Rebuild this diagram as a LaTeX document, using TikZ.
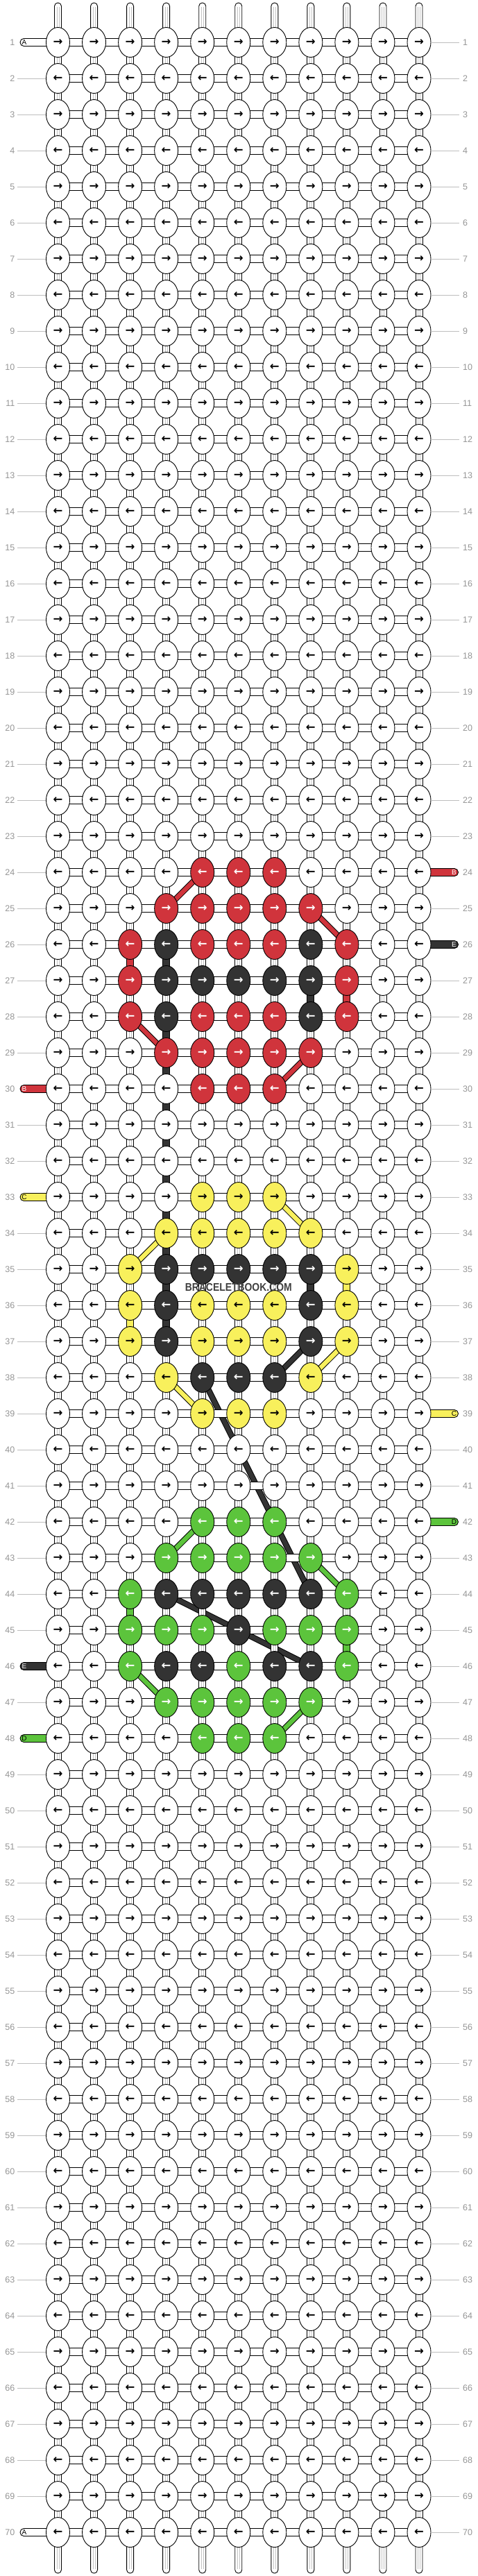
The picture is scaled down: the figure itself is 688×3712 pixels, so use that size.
\documentclass[tikz,border=0pt]{standalone}
\usepackage{fontspec}
\usepackage{graphicx}
\setmainfont{Liberation Sans}
\newfontfamily\arrowfont{DejaVu Sans}
\usetikzlibrary{shapes.geometric,calc}
\definecolor{cR}{RGB}{208,52,60}
\definecolor{cK}{RGB}{51,51,51}
\definecolor{cY}{RGB}{248,240,92}
\definecolor{cG}{RGB}{92,196,60}
\definecolor{cW}{RGB}{255,255,255}
\definecolor{numgray}{RGB}{150,150,150}
\definecolor{linegray}{RGB}{190,190,190}
\definecolor{innergray}{RGB}{195,195,195}
\definecolor{wmark}{RGB}{64,64,64}
% knot colours: \setk{row}{colour letter}{columns}
\newcommand\setk[3]{\foreach \cc in {#3}{\expandafter\xdef\csname kc-#1-\cc\endcsname{#2}}}
% coloured vertical pieces: \setvc{column}{colour letter}{upper rows}
\newcommand\setvc[3]{\foreach \rr in {#3}{\expandafter\xdef\csname vc-\rr-#1\endcsname{#2}}}
\setk{24}{R}{5,6,7}
\setk{25}{R}{4,5,6,7,8}
\setk{26}{R}{3,5,6,7,9}\setk{26}{K}{4,8}
\setk{27}{R}{3,9}\setk{27}{K}{4,5,6,7,8}
\setk{28}{R}{3,5,6,7,9}\setk{28}{K}{4,8}
\setk{29}{R}{4,5,6,7,8}
\setk{30}{R}{5,6,7}
\setk{33}{Y}{5,6,7}
\setk{34}{Y}{4,5,6,7,8}
\setk{35}{Y}{3,9}\setk{35}{K}{4,5,6,7,8}
\setk{36}{Y}{3,5,6,7,9}\setk{36}{K}{4,8}
\setk{37}{Y}{3,5,6,7,9}\setk{37}{K}{4,8}
\setk{38}{Y}{4,8}\setk{38}{K}{5,6,7}
\setk{39}{Y}{5,6,7}
\setk{42}{G}{5,6,7}
\setk{43}{G}{4,5,6,7,8}
\setk{44}{G}{3,9}\setk{44}{K}{4,5,6,7,8}
\setk{45}{G}{3,4,5,7,8,9}\setk{45}{K}{6}
\setk{46}{G}{3,6,9}\setk{46}{K}{4,5,7,8}
\setk{47}{G}{4,5,6,7,8}
\setk{48}{G}{5,6,7}
\setvc{3}{R}{26}
\setvc{9}{R}{27}
\setvc{4}{K}{26,28,29,30,31,32,33,34,35,36}
\setvc{8}{K}{27,35}
\setvc{9}{Y}{35}
\setvc{3}{Y}{36}
\setvc{3}{G}{44}
\setvc{9}{G}{45}
% side markers
\expandafter\def\csname lt-1\endcsname{}
\expandafter\def\csname lt-30\endcsname{}
\expandafter\def\csname lt-33\endcsname{}
\expandafter\def\csname lt-46\endcsname{}
\expandafter\def\csname lt-48\endcsname{}
\expandafter\def\csname lt-70\endcsname{}
\expandafter\def\csname rt-24\endcsname{}
\expandafter\def\csname rt-26\endcsname{}
\expandafter\def\csname rt-39\endcsname{}
\expandafter\def\csname rt-42\endcsname{}
\newcommand\thr[3]{\draw[line width=8.5pt,black] (#2)--(#3);\draw[line width=6.5pt,#1] (#2)--(#3);}
\newcommand\ltube[4]{%
  \filldraw[fill=#2,line width=0.9pt,rounded corners=5.4pt]
    ($(p-#1-1)+(-12,-5.5)$) -- ($(p-#1-1)+(-54.5,-5.5)$) -- ($(p-#1-1)+(-54.5,5.5)$) -- ($(p-#1-1)+(-12,5.5)$);
  \node[tubelabel,text=#4] (lt-#1) at ($(p-#1-1)+(-48.5,0)$) {#3};}
\newcommand\rtube[4]{%
  \filldraw[fill=#2,line width=0.9pt,rounded corners=5.4pt]
    ($(p-#1-11)+(12,-5.5)$) -- ($(p-#1-11)+(56.5,-5.5)$) -- ($(p-#1-11)+(56.5,5.5)$) -- ($(p-#1-11)+(12,5.5)$);
  \node[tubelabel,text=#4] (rt-#1) at ($(p-#1-11)+(50.5,0)$) {#3};}
\begin{document}
\begin{tikzpicture}[x=1pt,y=-1pt,
  knot/.style={ellipse,draw=black,line width=0.9pt,minimum width=34pt,minimum height=43pt,inner sep=0pt,
    font=\arrowfont\bfseries\fontsize{16.5}{16.5}\selectfont},
  conn/.style={draw=black,line width=0.9pt},
  inner/.style={draw=innergray,line width=0.6pt},
  grayline/.style={draw=linegray,line width=0.8pt},
  numlabel/.style={inner sep=0pt,text=numgray,font=\fontsize{12.5}{12.5}\selectfont},
  tubelabel/.style={inner sep=0pt,font=\fontsize{10}{10}\selectfont}]
\useasboundingbox[fill=white] (0,0) rectangle (688,3712);
% grid coordinates
\foreach \r in {1,...,70}{\foreach \c in {1,...,11}{%
  \coordinate (p-\r-\c) at ({83.5+52.05*(\c-1)},{61+52*(\r-1)});}}
% thread paths
\thr{cR}{p-24-5}{p-25-4}
\thr{cR}{p-25-8}{p-26-9}
\thr{cR}{p-28-3}{p-29-4}
\thr{cR}{p-29-8}{p-30-7}
\thr{cY}{p-33-7}{p-34-8}
\thr{cY}{p-34-4}{p-35-3}
\thr{cY}{p-37-9}{p-38-8}
\thr{cY}{p-38-4}{p-39-5}
\thr{cG}{p-42-5}{p-43-4}
\thr{cG}{p-43-8}{p-44-9}
\thr{cG}{p-46-3}{p-47-4}
\thr{cG}{p-47-8}{p-48-7}
\thr{cK}{p-37-8}{p-38-7}
\thr{cK}{p-38-5}{p-44-8}
\thr{cK}{p-44-4}{p-46-8}
% top and bottom thread ends
\foreach \c in {1,...,11}{%
  \filldraw[fill=white,conn,rounded corners=4.9pt]
    ($(p-1-\c)+(-5,0)$) -- ($(p-1-\c)+(-5,-57)$) -- ($(p-1-\c)+(5,-57)$) -- ($(p-1-\c)+(5,0)$);
  \draw[inner] ($(p-1-\c)+(-1.3,-51)$) -- ($(p-1-\c)+(-1.3,0)$) ($(p-1-\c)+(1.3,-51)$) -- ($(p-1-\c)+(1.3,0)$);
  \filldraw[fill=white,conn,rounded corners=4.9pt]
    ($(p-70-\c)+(-5,0)$) -- ($(p-70-\c)+(-5,59)$) -- ($(p-70-\c)+(5,59)$) -- ($(p-70-\c)+(5,0)$);
  \draw[inner] ($(p-70-\c)+(-1.3,53)$) -- ($(p-70-\c)+(-1.3,0)$) ($(p-70-\c)+(1.3,53)$) -- ($(p-70-\c)+(1.3,0)$);
}
% vertical pieces
\foreach \r [evaluate=\r as \rn using int(\r+1)] in {1,...,69}{\foreach \c in {1,...,11}{%
  \ifcsname vc-\r-\c\endcsname
    \edef\vcol{c\csname vc-\r-\c\endcsname}%
    \filldraw[fill=\vcol,conn] ($(p-\r-\c)+(-5,0)$) rectangle ($(p-\rn-\c)+(5,0)$);
  \else
    \filldraw[fill=white,conn] ($(p-\r-\c)+(-5,0)$) rectangle ($(p-\rn-\c)+(5,0)$);
    \draw[inner] ($(p-\r-\c)+(-1.3,0)$) -- ($(p-\rn-\c)+(-1.3,0)$) ($(p-\r-\c)+(1.3,0)$) -- ($(p-\rn-\c)+(1.3,0)$);
  \fi}}
% horizontal pieces
\foreach \r in {1,...,70}{\foreach \c [evaluate=\c as \cn using int(\c+1)] in {1,...,10}{%
  \filldraw[fill=white,conn] ($(p-\r-\c)+(0,-5.5)$) rectangle ($(p-\r-\cn)+(0,5.5)$);}}
% side tubes
\ltube{1}{white}{A}{black}
\ltube{70}{white}{A}{black}
\ltube{30}{cR}{B}{white}
\ltube{33}{cY}{C}{black}
\ltube{46}{cK}{E}{white}
\ltube{48}{cG}{D}{black}
\rtube{24}{cR}{B}{white}
\rtube{26}{cK}{E}{white}
\rtube{39}{cY}{C}{black}
\rtube{42}{cG}{D}{black}
% knots
\foreach \r in {1,...,70}{\foreach \c in {1,...,11}{%
  \def\kfill{white}\def\ktext{black}%
  \ifcsname kc-\r-\c\endcsname
    \edef\kk{\csname kc-\r-\c\endcsname}%
    \edef\kfill{c\kk}%
    \if Y\kk\else\def\ktext{white}\fi
  \fi
  \ifodd\r\def\arr{→}\else\def\arr{←}\fi
  \node[knot,fill=\kfill,text=\ktext] (k-\r-\c) at (p-\r-\c) {\arr};
}}
% row numbers and guide lines
\foreach \r in {1,...,70}{%
  \node[numlabel,anchor=east] (ln-\r) at ($(p-\r-1)+(-62,0)$) {\r};
  \node[numlabel,anchor=west] (rn-\r) at ($(p-\r-11)+(63,0)$) {\r};
  \ifcsname lt-\r\endcsname\else
    \draw[grayline] (ln-\r.east) ++(3.5,0) -- (k-\r-1.west);
  \fi
  \ifcsname rt-\r\endcsname\else
    \draw[grayline] (k-\r-11.east) -- ($(rn-\r.west)+(-5,0)$);
  \fi
}
% watermark
\node[text=wmark,font=\bfseries\fontsize{16}{16}\selectfont,inner sep=0pt] (wm) at ($(p-35-6)!0.5!(p-36-6)$) {\scalebox{0.87}[1]{BRACELETBOOK.COM}};
\end{tikzpicture}
\end{document}
